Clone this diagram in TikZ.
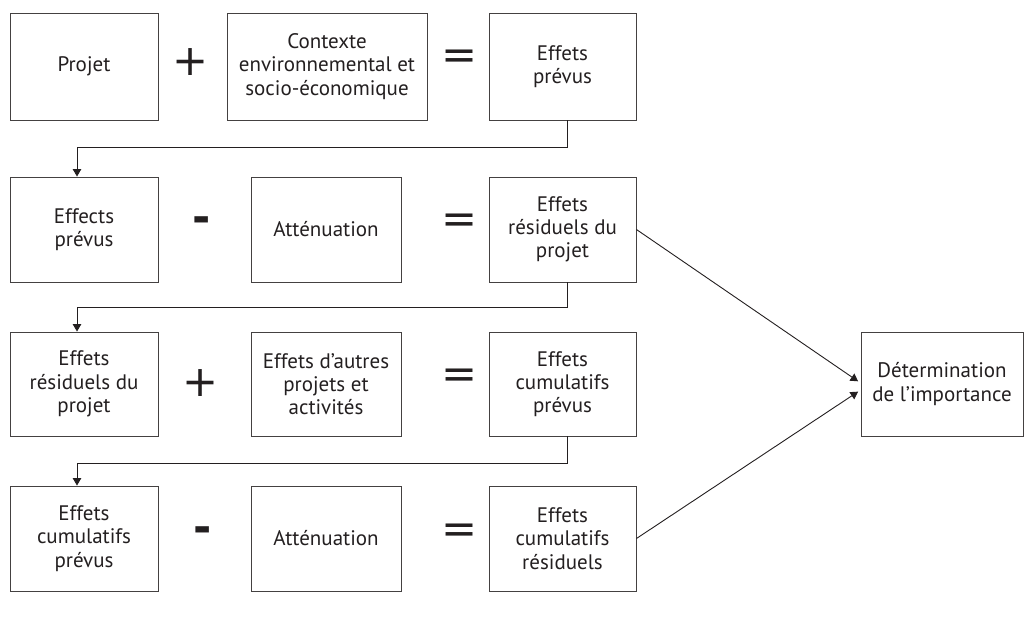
\documentclass[tikz,border=0pt]{standalone}
\usepackage{fontspec}
\setmainfont{PT Sans}
\newfontfamily\opfont{DejaVu Sans}
\usetikzlibrary{arrows.meta}
\definecolor{ink}{HTML}{231F20}
\begin{document}
\begin{tikzpicture}[x=1pt,y=-1pt,
  box/.style={draw=ink!85, line width=0.9pt, align=center, inner sep=0pt, text=ink, font=\fontsize{21}{23.3}\selectfont},
  c1/.style={box, minimum width=148pt},
  c2/.style={box, minimum width=150pt},
  c3/.style={box, minimum width=147pt},
  op/.style={font=\opfont\fontsize{43}{43}\selectfont, inner sep=0pt, text=ink},
  mn/.style={font=\opfont\bfseries\fontsize{44}{44}\selectfont, inner sep=0pt, text=ink},
  arr/.style={draw=ink, line width=0.9pt, -{Triangle[width=8.5pt,length=7.5pt]}},
  ]
\useasboundingbox (0,0) rectangle (1032,616);
% row 1
\node[c1, minimum height=107pt] (a1) at (84,66.5) {Projet};
\node[box, minimum width=200pt, minimum height=107pt] (a2) at (327,66.5) {Contexte\\environnemental et\\socio-économique};
\node[c3, minimum height=107pt] (a3) at (562.5,66.5) {Effets\\prévus};
\node[op] (pa) at (190.5,62) {+};
\node[op] (ea) at (459.5,60) {=};
% row 2
\node[c1, minimum height=105pt] (b1) at (84,229.5) {Effects\\prévus};
\node[c2, minimum height=105pt] (b2) at (326,229.5) {Atténuation};
\node[c3, minimum height=105pt] (b3) at (562.5,229.5) {Effets\\résiduels du\\projet};
\node[mn] (mb) at (202,224.5) {-};
\node[op] (eb) at (459.5,223.5) {=};
% row 3
\node[c1, minimum height=104pt] (c1) at (84,384) {Effets\\résiduels du\\projet};
\node[c2, minimum height=104pt] (c2) at (326,384) {Effets d’autres\\projets et\\activités};
\node[c3, minimum height=104pt] (c3) at (562.5,384) {Effets\\cumulatifs\\prévus};
\node[op] (pc) at (200.5,383.5) {+};
\node[op] (ec) at (459.5,378.5) {=};
% row 4
\node[c1, minimum height=105pt] (d1) at (84,538.5) {Effets\\cumulatifs\\prévus};
\node[c2, minimum height=105pt] (d2) at (326,538.5) {Atténuation};
\node[c3, minimum height=105pt] (d3) at (562.5,538.5) {Effets\\cumulatifs\\résiduels};
\node[mn] (md) at (202.5,535) {-};
\node[op] (ed) at (459.5,533.5) {=};
% determination
\node[box, minimum width=162pt, minimum height=104pt] (det) at (942,384) {Détermination\\de l’importance};
% connectors
\draw[arr] ([xshift=4.5pt]a3.south) -- ++(0,27) -| ([xshift=-7pt]b1.north);
\draw[arr] ([xshift=4.5pt]b3.south) -- ++(0,25) -| ([xshift=-7pt]c1.north);
\draw[arr] ([xshift=4.5pt]c3.south) -- ++(0,27) -| ([xshift=-7pt]d1.north);
\draw[arr, shorten >=3pt] (b3.east) -- ([yshift=1pt]det.west);
\draw[arr, shorten >=3pt] (d3.east) -- ([yshift=-6pt]det.west);
\end{tikzpicture}
\end{document}
